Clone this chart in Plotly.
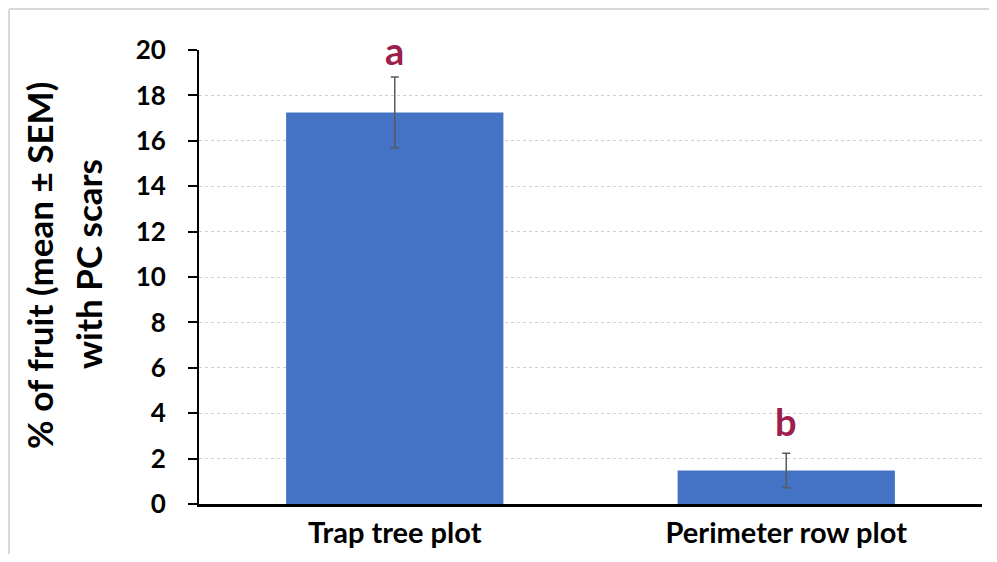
import plotly.graph_objects as go

categories = ["Trap tree plot", "Perimeter row plot"]
means = [17.25, 1.48]
sems = [1.56, 0.76]
letters = ["a", "b"]
letter_y = [19.30, 2.96]
y_ticks = [0, 2, 4, 6, 8, 10, 12, 14, 16, 18, 20]

FONT = "Lato"
OFF = 8  # page body margin
W, H = 997 - 2 * OFF, 562 - 2 * OFF
L, T = 199 - OFF, 50 - OFF
R = W - (982 - OFF)
B = H - (504 - OFF)
pw, ph = W - L - R, H - T - B

def px(x):  # page pixel -> paper
    return (x - OFF - L) / pw

def py(y):
    return (H - B - (y - OFF)) / ph

fig = go.Figure()
fig.add_trace(go.Bar(
    x=categories, y=means,
    marker=dict(color="#4472C4", line=dict(width=0)),
    error_y=dict(type="data", array=sems, visible=True, color="#595959", thickness=1.5, width=4),
    width=0.555,
))

for c, l, ly in zip(categories, letters, letter_y):
    fig.add_annotation(x=c, y=ly, text="<b>%s</b>" % l, showarrow=False,
                       yanchor="bottom", yshift=-9,
                       font=dict(family=FONT, size=38, color="#9C1F4E"))

fig.add_annotation(xref="paper", yref="paper", x=px(39), y=py(266), text="<b>% of fruit (mean ± SEM)</b>",
                   textangle=-90, showarrow=False, xanchor="center", yanchor="middle",
                   font=dict(family=FONT, size=35, color="#000000"))
fig.add_annotation(xref="paper", yref="paper", x=px(88), y=py(264), text="<b>with PC scars</b>",
                   textangle=-90, showarrow=False, xanchor="center", yanchor="middle",
                   font=dict(family=FONT, size=35, color="#000000"))

fig.add_shape(type="line", xref="paper", yref="paper", x0=px(9), x1=px(OFF + W), y0=py(9), y1=py(9),
              line=dict(color="#D9D9D9", width=2), layer="below")
fig.add_shape(type="line", xref="paper", yref="paper", x0=px(9), x1=px(9), y0=py(9), y1=py(OFF + H),
              line=dict(color="#D9D9D9", width=2), layer="below")

fig.update_layout(
    width=W, height=H,
    margin=dict(l=L, r=R, t=T, b=B, pad=0, autoexpand=False),
    plot_bgcolor="white", paper_bgcolor="white",
    showlegend=False,
    font=dict(family=FONT, color="#000000"),
    xaxis=dict(showline=True, linecolor="#000000", linewidth=2.5, ticks="",
               tickfont=dict(family=FONT, size=29, color="#000000"),
               ticklabelstandoff=1, showgrid=False, automargin=False),
    yaxis=dict(range=[0, 20], tickvals=y_ticks, ticktext=["<b>%d</b>" % v for v in y_ticks],
               showline=True, linecolor="#000000", linewidth=2, ticks="outside", ticklen=9,
               tickwidth=2, tickcolor="#000000",
               tickfont=dict(family=FONT, size=26, color="#000000"),
               ticklabelstandoff=17, automargin=False,
               showgrid=True, gridcolor="#D0D0D0", griddash="dot", gridwidth=1,
               zeroline=False),
)
fig.update_xaxes(ticktext=["<b>%s</b>" % c for c in categories], tickvals=categories)

fig.write_html("out.html")
